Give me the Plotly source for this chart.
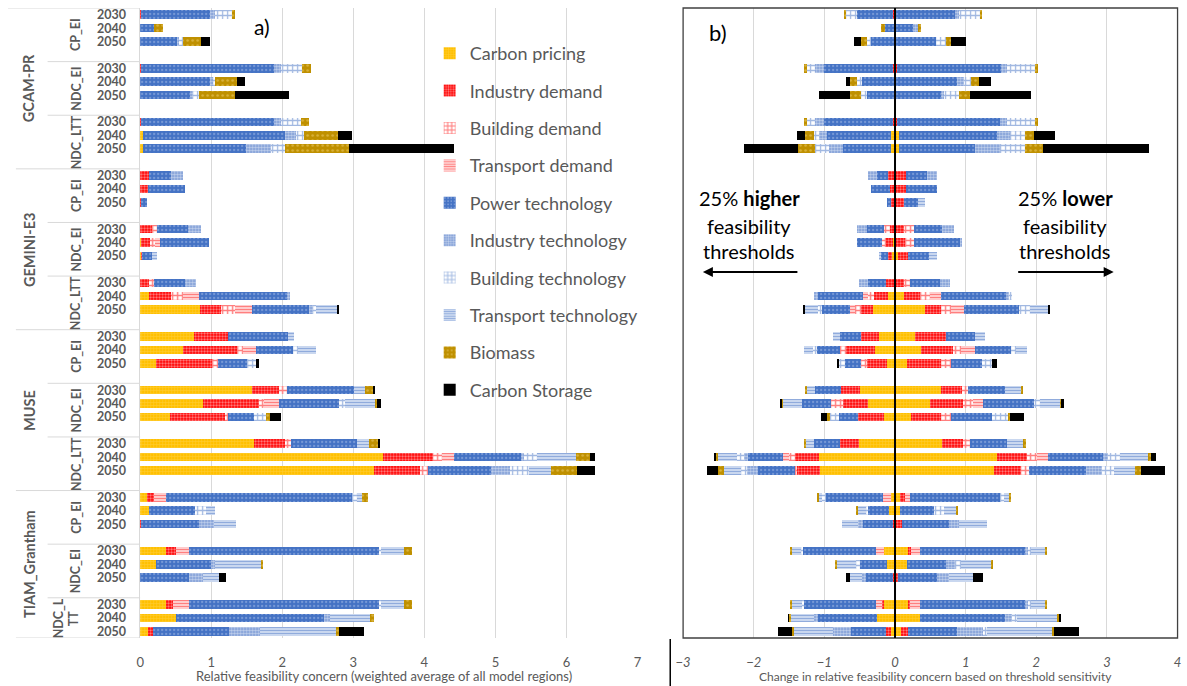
import plotly.graph_objects as go

W, H = 1187, 686

categories = ["Carbon pricing", "Industry demand", "Building demand", "Transport demand",
              "Power technology", "Industry technology", "Building technology",
              "Transport technology", "Biomass", "Carbon Storage"]
models = ["GCAM-PR", "GEMINI-E3", "MUSE", "TIAM_Grantham"]
scenarios = ["CP_EI", "NDC_EI", "NDC_LTT"]
years = ["2030", "2040", "2050"]
x_ticks_a = [0, 1, 2, 3, 4, 5, 6, 7]
x_ticks_b = [-3, -2, -1, 0, 1, 2, 3, 4]

# Rows: scenario x year (CP_EI 2030..2050, NDC_EI 2030..2050, NDC_LTT 2030..2050)
# Columns follow the category order above.
gcam_base = [
    [0, 0.02, 0, 0, 0.96, 0.08, 0.24, 0, 0.04, 0],
    [0, 0, 0, 0, 0.20, 0, 0, 0, 0.12, 0],
    [0, 0, 0, 0, 0.53, 0.02, 0.06, 0, 0.25, 0.12],
    [0, 0.02, 0, 0, 1.87, 0.10, 0.29, 0, 0.12, 0],
    [0, 0, 0, 0, 0.98, 0.06, 0.02, 0, 0.31, 0.11],
    [0, 0, 0, 0, 0.71, 0.04, 0.08, 0, 0.50, 0.76],
    [0, 0.02, 0, 0, 1.86, 0.10, 0.28, 0, 0.12, 0],
    [0.04, 0, 0, 0, 2.00, 0.15, 0.12, 0, 0.48, 0.20],
    [0.04, 0, 0, 0, 1.45, 0.35, 0.20, 0, 0.90, 1.48],
]
gemini_base = [
    [0, 0.13, 0, 0, 0.30, 0.17, 0, 0, 0, 0],
    [0, 0.11, 0, 0, 0.52, 0, 0, 0, 0, 0],
    [0, 0.01, 0, 0, 0.09, 0, 0, 0, 0, 0],
    [0, 0.17, 0.07, 0, 0.44, 0.18, 0, 0, 0, 0],
    [0.02, 0.12, 0.07, 0.07, 0.69, 0, 0, 0, 0, 0],
    [0.02, 0.01, 0, 0, 0.14, 0, 0, 0.07, 0, 0],
    [0, 0.12, 0.07, 0, 0.44, 0.16, 0, 0, 0, 0],
    [0.13, 0.30, 0.17, 0.23, 1.24, 0.04, 0, 0, 0, 0],
    [0.85, 0.29, 0.19, 0.25, 0.80, 0.05, 0.05, 0.30, 0, 0.02],
]
muse_base = [
    [0.76, 0.48, 0, 0, 0.84, 0, 0, 0.09, 0, 0],
    [0.60, 0.77, 0.08, 0.18, 0.52, 0, 0.08, 0.24, 0, 0],
    [0.22, 0.80, 0.08, 0, 0.41, 0, 0.12, 0, 0, 0.04],
    [1.57, 0.38, 0.12, 0, 0.94, 0, 0, 0.16, 0.12, 0.01],
    [0.88, 0.79, 0.07, 0.21, 0.85, 0, 0.08, 0.44, 0.02, 0.05],
    [0.42, 0.77, 0.05, 0, 0.36, 0, 0.18, 0, 0.05, 0.15],
    [1.60, 0.44, 0.08, 0, 0.94, 0, 0, 0.16, 0.14, 0.02],
    [3.42, 0.71, 0.12, 0.17, 0.94, 0.05, 0.18, 0.54, 0.20, 0.07],
    [3.29, 0.65, 0.11, 0, 0.89, 0.26, 0.28, 0.30, 0.37, 0.25],
]
tiam_base = [
    [0.10, 0.10, 0, 0.16, 2.62, 0, 0.07, 0.07, 0.09, 0],
    [0.13, 0, 0, 0, 0.64, 0, 0.16, 0.13, 0, 0],
    [0, 0.02, 0, 0, 0.81, 0.21, 0, 0.31, 0, 0],
    [0.37, 0.13, 0, 0.19, 2.67, 0, 0.03, 0.32, 0.12, 0],
    [0.23, 0, 0, 0, 0.77, 0.06, 0, 0.64, 0.03, 0],
    [0, 0, 0, 0, 0.69, 0.20, 0, 0.22, 0, 0.10],
    [0.37, 0.10, 0, 0.22, 2.67, 0, 0.03, 0.32, 0.12, 0],
    [0.50, 0, 0, 0, 2.09, 0.08, 0, 0.57, 0.05, 0],
    [0.11, 0.07, 0, 0, 1.07, 0.44, 0, 1.07, 0.04, 0.35],
]

# Change with 25% higher thresholds (negative side)
gcam_higher = [
    [0, -0.02, 0, 0, -0.52, 0, -0.16, 0, -0.02, 0],
    [0, 0, 0, 0, -0.14, 0, 0, 0, -0.05, 0],
    [0, 0, 0, 0, -0.34, 0, -0.06, 0, -0.08, -0.10],
    [0, -0.02, 0, 0, -0.99, -0.12, -0.12, 0, -0.03, 0],
    [0, 0, 0, 0, -0.47, 0, -0.06, 0, -0.10, -0.06],
    [0, 0, 0, 0, -0.39, 0, -0.09, 0, -0.15, -0.44],
    [0, -0.02, 0, 0, -0.99, -0.12, -0.12, 0, -0.03, 0],
    [-0.05, 0, 0, 0, -0.91, -0.12, -0.06, 0, -0.13, -0.12],
    [-0.05, 0, 0, 0, -0.68, -0.21, -0.19, 0, -0.24, -0.76],
]
gemini_higher = [
    [0, -0.10, 0, 0, -0.16, -0.12, 0, 0, 0, 0],
    [0, -0.07, 0, 0, -0.27, 0, 0, 0, 0, 0],
    [0, -0.05, 0, 0, -0.06, 0, 0, 0, 0, 0],
    [0, -0.07, -0.08, 0, -0.25, -0.13, 0, 0, 0, 0],
    [-0.02, -0.10, -0.06, 0, -0.36, 0, 0, 0, 0, 0],
    [-0.04, -0.06, 0, 0, -0.10, 0, 0, -0.03, 0, 0],
    [0, -0.12, 0, 0, -0.26, -0.13, 0, 0, 0, 0],
    [-0.10, -0.19, -0.09, -0.07, -0.64, -0.05, 0, 0, 0, 0],
    [-0.31, -0.17, -0.08, -0.07, -0.40, 0, -0.06, -0.19, 0, -0.02],
]
muse_higher = [
    [-0.22, -0.26, 0, 0, -0.30, 0, 0, -0.09, 0, 0],
    [-0.28, -0.41, -0.09, 0, -0.33, 0, -0.05, -0.12, 0, 0],
    [-0.11, -0.29, -0.08, 0, -0.22, 0, -0.10, 0, 0, -0.02],
    [-0.50, -0.26, 0, 0, -0.37, 0, 0, -0.12, -0.02, 0],
    [-0.38, -0.35, -0.17, 0, -0.42, 0, 0, -0.27, -0.01, -0.02],
    [-0.15, -0.37, 0, 0, -0.27, 0, -0.13, 0, -0.04, -0.09],
    [-0.51, -0.27, 0, 0, -0.36, 0, 0, -0.13, -0.02, 0],
    [-1.08, -0.33, -0.09, -0.09, -0.49, -0.05, -0.10, -0.27, -0.04, -0.02],
    [-1.06, -0.33, -0.02, 0, -0.53, -0.15, -0.09, -0.24, -0.09, -0.15],
]
tiam_higher = [
    [-0.05, 0, 0, -0.12, -0.81, 0, -0.05, -0.05, -0.02, 0],
    [-0.08, 0, 0, 0, -0.30, 0, -0.03, -0.12, -0.01, 0],
    [0, -0.03, 0, 0, -0.42, -0.07, 0, -0.23, 0, 0],
    [-0.15, 0, 0, -0.12, -1.03, 0, -0.03, -0.13, -0.03, 0],
    [-0.11, 0, 0, 0, -0.39, 0, -0.05, -0.28, -0.02, 0],
    [0, -0.02, 0, 0, -0.39, -0.05, 0, -0.17, 0, -0.06],
    [-0.15, -0.03, 0, -0.09, -1.02, 0, -0.03, -0.13, -0.03, 0],
    [-0.25, 0, 0, 0, -0.84, -0.06, 0, -0.33, -0.02, -0.01],
    [-0.06, -0.06, 0, 0, -0.50, -0.25, 0, -0.56, -0.03, -0.19],
]

# Change with 25% lower thresholds (positive side)
gcam_lower = [
    [0, 0.02, 0, 0, 0.83, 0.06, 0.30, 0, 0.02, 0],
    [0, 0, 0, 0, 0.25, 0.07, 0, 0, 0.05, 0],
    [0, 0, 0, 0, 0.58, 0, 0.14, 0, 0.08, 0.20],
    [0, 0.03, 0, 0, 1.47, 0.09, 0.40, 0, 0.03, 0],
    [0, 0, 0, 0, 0.88, 0.10, 0.10, 0, 0.11, 0.17],
    [0, 0, 0, 0, 0.65, 0.05, 0.21, 0, 0.16, 0.85],
    [0, 0.03, 0, 0, 1.46, 0.10, 0.40, 0, 0.03, 0],
    [0.06, 0, 0, 0, 1.38, 0.19, 0.21, 0, 0.13, 0.30],
    [0.06, 0, 0, 0, 1.07, 0.36, 0.35, 0, 0.26, 1.50],
]
gemini_lower = [
    [0, 0.16, 0, 0, 0.30, 0.14, 0, 0, 0, 0],
    [0, 0.15, 0, 0, 0.45, 0, 0, 0, 0, 0],
    [0, 0.13, 0, 0, 0.20, 0, 0, 0.09, 0, 0],
    [0, 0.13, 0.14, 0, 0.40, 0.16, 0, 0, 0, 0],
    [0.02, 0.12, 0.13, 0, 0.66, 0.02, 0, 0, 0, 0],
    [0.04, 0.14, 0, 0, 0.30, 0, 0, 0.11, 0, 0],
    [0, 0.13, 0.09, 0, 0.42, 0.14, 0, 0, 0, 0],
    [0.13, 0.23, 0.14, 0.15, 0.92, 0.04, 0.05, 0, 0, 0],
    [0.42, 0.23, 0.14, 0.19, 0.77, 0, 0.16, 0.26, 0, 0.02],
]
muse_lower = [
    [0.29, 0.43, 0, 0, 0.42, 0, 0, 0.14, 0, 0],
    [0.37, 0.45, 0.12, 0.20, 0.50, 0, 0.07, 0.16, 0, 0],
    [0.17, 0.48, 0.14, 0, 0.44, 0, 0.14, 0, 0, 0.08],
    [0.65, 0.30, 0.09, 0, 0.52, 0, 0, 0.22, 0.04, 0],
    [0.49, 0.48, 0.13, 0.15, 0.72, 0, 0.09, 0.28, 0.01, 0.05],
    [0.23, 0.42, 0.14, 0, 0.59, 0, 0.23, 0, 0.02, 0.20],
    [0.67, 0.30, 0.10, 0, 0.52, 0, 0, 0.23, 0.04, 0],
    [1.45, 0.42, 0.14, 0.16, 0.78, 0.07, 0.17, 0.40, 0.04, 0.07],
    [1.40, 0.38, 0.12, 0, 0.81, 0.22, 0.17, 0.30, 0.09, 0.33],
]
tiam_lower = [
    [0.07, 0.07, 0, 0.07, 1.28, 0, 0.06, 0.07, 0.03, 0],
    [0.07, 0, 0, 0, 0.49, 0, 0.14, 0.17, 0.02, 0],
    [0, 0.10, 0, 0, 0.67, 0.14, 0, 0.39, 0, 0],
    [0.18, 0.05, 0, 0.13, 1.48, 0.05, 0.04, 0.20, 0.03, 0],
    [0.17, 0, 0, 0, 0.56, 0.12, 0.09, 0.43, 0.02, 0],
    [0, 0.05, 0, 0, 0.55, 0.17, 0, 0.33, 0, 0.14],
    [0.18, 0.04, 0, 0.14, 1.48, 0.05, 0.04, 0.20, 0.03, 0],
    [0.36, 0, 0, 0, 1.20, 0.10, 0.07, 0.56, 0.03, 0.03],
    [0.08, 0.10, 0, 0, 0.70, 0.36, 0.07, 0.91, 0.03, 0.35],
]

# Fill styles per category: (background, pattern shape, pattern colour, size, solidity)
STYLES = [
    ("#FFC000", "+", "#FFD966", 3, 0.35),
    ("#FF0000", ".", "#FFFFFF", 3, 0.45),
    ("#FFFFFF", "+", "#FF0000", 5, 0.5),
    ("#FFFFFF", "-", "#FF0000", 3, 0.6),
    ("#4472C4", ".", "#A9C0E8", 4, 0.25),
    ("#7D9CD6", ".", "#FFFFFF", 3, 0.5),
    ("#FFFFFF", "+", "#4472C4", 5, 0.45),
    ("#DCE5F5", "-", "#4472C4", 3, 0.5),
    ("#BF9000", ".", "#F2D27A", 5, 0.2),
    ("#000000", "", "#000000", 8, 0.3),
]

base_rows = gcam_base + gemini_base + muse_base + tiam_base
higher_rows = gcam_higher + gemini_higher + muse_higher + tiam_higher
lower_rows = gcam_lower + gemini_lower + muse_lower + tiam_lower

# Category slots: 4 slots per scenario (3 years + a gap), a model spans 12 slots
slots = []
for m in range(len(models)):
    for s in range(len(scenarios)):
        for yi in range(len(years)):
            slots.append(12 * m + 4 * s + yi)
N_SLOTS = 12 * len(models) - 1

PLOT_TOP, PLOT_BOT = 8, 638


def px(x):
    return x / W


def py(y):
    return 1 - y / H


def marker_for(i):
    bg, shape, fg, size, sol = STYLES[i]
    pat = dict(shape=shape, fgcolor=fg, bgcolor=bg, size=size, solidity=sol, fillmode="overlay")
    return dict(color=bg, pattern=pat, line=dict(width=0))


fig = go.Figure()
BAR_W = 0.64
for i, cat in enumerate(categories):
    fig.add_trace(go.Bar(
        x=[r[i] for r in base_rows], y=slots, orientation="h", width=BAR_W,
        name=cat, legendgroup=cat, marker=marker_for(i), xaxis="x", yaxis="y"))
for i, cat in enumerate(categories):
    fig.add_trace(go.Bar(
        x=[r[i] for r in higher_rows], y=slots, orientation="h", width=BAR_W,
        name=cat, legendgroup=cat, showlegend=False, marker=marker_for(i),
        xaxis="x2", yaxis="y2"))
    fig.add_trace(go.Bar(
        x=[r[i] for r in lower_rows], y=slots, orientation="h", width=BAR_W,
        name=cat, legendgroup=cat, showlegend=False, marker=marker_for(i),
        xaxis="x2", yaxis="y2"))

FONT = "Lato"
GREY = "#595959"
GRID = "#D9D9D9"
ydom = [py(PLOT_BOT), py(PLOT_TOP)]
yrange = [N_SLOTS - 0.5, -0.5]

annotations = []
shapes = []


def label(text, x, y, size, yref="y", angle=0, xanchor="center", color=GREY):
    return dict(text=text, x=px(x), xref="paper", xanchor=xanchor, y=y, yref=yref,
                yanchor="middle", textangle=angle, showarrow=False,
                font=dict(size=size, color=color))


# Category labels (years, scenarios, models)
for k, sl in enumerate(slots):
    annotations.append(label("<b>%s</b>" % years[k % 3], 121, sl, 12.5, xanchor="right"))
for m in range(len(models)):
    last_model = m == len(models) - 1
    for s in range(len(scenarios)):
        first = 12 * m + 4 * s
        short = last_model and s == len(scenarios) - 1
        span_end = first + 2 if short else first + 3
        yc = (first - 0.5 + span_end + 0.5) / 2
        if short:
            annotations.append(label("<b>NDC_L</b>", 51, yc, 12.5, angle=-90))
            annotations.append(label("<b>TT</b>", 67, yc, 12.5, angle=-90))
        else:
            annotations.append(label("<b>%s</b>" % scenarios[s], 69, yc, 12.5, angle=-90))
        if s > 0:
            shapes.append(dict(type="line", xref="paper", yref="y", x0=px(40), x1=px(133.5),
                               y0=first - 0.5, y1=first - 0.5, line=dict(color=GRID, width=1)))
    m_end = 12 * m + (10 if last_model else 11)
    yc = (12 * m - 0.5 + m_end + 0.5) / 2
    annotations.append(label("<b>%s</b>" % models[m], 21, yc, 14.5, angle=-90))
    shapes.append(dict(type="line", xref="paper", yref="y", x0=px(0 if m == 0 else 8), x1=px(133.5),
                       y0=12 * m - 0.5, y1=12 * m - 0.5, line=dict(color=GRID, width=1)))
shapes.append(dict(type="line", xref="paper", yref="y", x0=px(8), x1=px(133.5),
                   y0=N_SLOTS - 0.5, y1=N_SLOTS - 0.5, line=dict(color=GRID, width=1)))

# Panel b frame, zero line and divider
shapes.append(dict(type="rect", xref="paper", yref="paper", x0=px(682), x1=px(1181.5),
                   y0=py(PLOT_BOT), y1=py(PLOT_TOP), line=dict(color="#404040", width=1.3), layer="above"))
shapes.append(dict(type="line", xref="x2", yref="paper", x0=0, x1=0, y0=py(PLOT_BOT), y1=py(PLOT_TOP),
                   line=dict(color="black", width=2), layer="above"))
shapes.append(dict(type="line", xref="paper", yref="paper", x0=px(669), x1=px(669), y0=py(639), y1=0,
                   line=dict(color="black", width=1.5)))

# Panel texts
annotations += [
    label("a)", 257, py(27), 21, yref="paper", color="black"),
    label("b)", 717, py(33), 22, yref="paper", color="black"),
    label("Relative feasibility concern (weighted average of all model regions)", 380, py(676), 13,
          yref="paper"),
    label("Change in relative feasibility concern based on threshold sensitivity", 937, py(676), 12,
          yref="paper"),
]
for xc, lines in [(749, ["25% <b>higher</b>", "feasibility", "thresholds"]),
                  (1068, ["25% <b>lower</b>", "feasibility", "thresholds"])]:
    for yy, t in zip([198, 226, 251], lines):
        annotations.append(label(t, xc, py(yy), 20, yref="paper", color="black"))
annotations.append(dict(text="", x=px(702), y=py(272), xref="paper", yref="paper", showarrow=True,
                        ax=96, ay=0, arrowhead=2, arrowsize=1, arrowwidth=2, arrowcolor="black"))
annotations.append(dict(text="", x=px(1117), y=py(272), xref="paper", yref="paper", showarrow=True,
                        ax=-97, ay=0, arrowhead=2, arrowsize=1, arrowwidth=2, arrowcolor="black"))

fig.update_layout(
    width=W, height=H, margin=dict(l=0, r=0, t=0, b=0),
    paper_bgcolor="white", plot_bgcolor="white",
    font=dict(family=FONT, color=GREY),
    barmode="relative", bargap=0,
    xaxis=dict(domain=[px(133.5), px(636)], range=[0, 7], tickvals=x_ticks_a,
               showgrid=True, gridcolor=GRID, zeroline=False, showline=False,
               tickfont=dict(size=13, color=GREY), ticks="", ticklabelstandoff=15, anchor="y"),
    yaxis=dict(domain=ydom, range=yrange, showticklabels=False, showgrid=False, zeroline=False,
               showline=True, linecolor=GRID, linewidth=1, ticks="", anchor="x"),
    xaxis2=dict(domain=[px(682), px(1181.5)], range=[-3, 4], tickvals=x_ticks_b,
                showgrid=True, gridcolor=GRID, zeroline=False, showline=False,
                tickfont=dict(size=13, color=GREY, style="italic"), ticks="", ticklabelstandoff=15,
                anchor="y2"),
    yaxis2=dict(domain=ydom, range=yrange, showticklabels=False, showgrid=False, zeroline=False,
                showline=False, ticks="", anchor="x2"),
    legend=dict(x=px(426), y=py(35), xanchor="left", yanchor="top", bgcolor="rgba(0,0,0,0)",
                font=dict(size=18, color=GREY), tracegroupgap=11, traceorder="grouped"),
    annotations=annotations, shapes=shapes,
)

fig.write_html("out.html")
